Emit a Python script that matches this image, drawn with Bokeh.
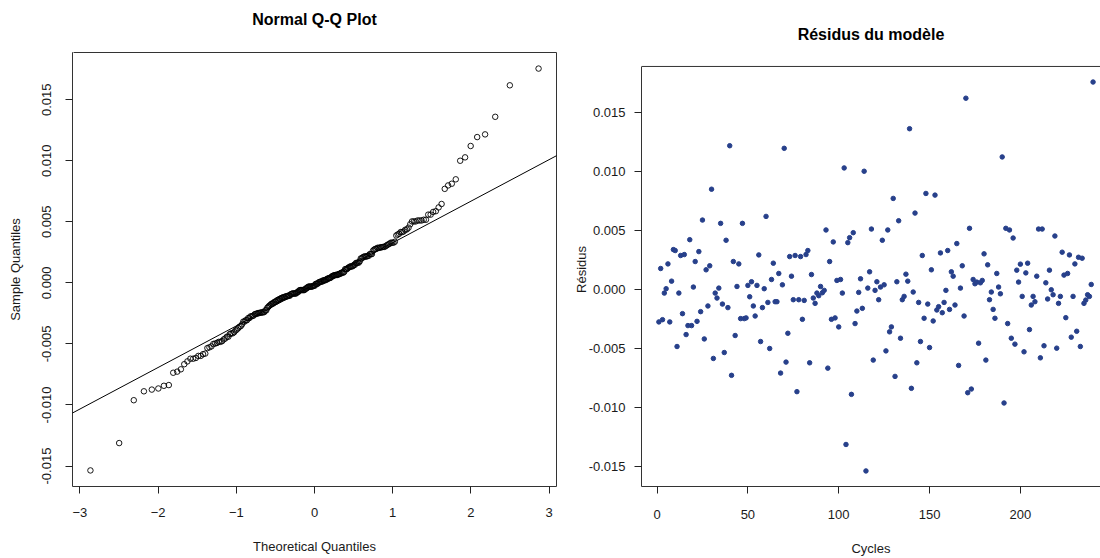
import numpy as np
from statistics import NormalDist
from bokeh.plotting import figure
from bokeh.layouts import row
from bokeh.models import (Range1d, FixedTicker, PrintfTickFormatter, Slope, LinearAxis,
                          Title, Span)
from bokeh.embed import file_html
from bokeh.resources import INLINE

# ---- data ----
cycles = list(range(1, 241))
residus = [
    -0.00275, 0.00177, -0.00256, -0.00031, 0.00006, 0.00216, -0.00275, 0.00070, 0.00337, 0.00329,
    -0.00483, -0.00031, 0.00287, -0.00205, 0.00295, -0.00382, -0.00306, 0.00421, -0.00306, 0.00020,
    0.00236, -0.00270, 0.00320, -0.00188, 0.00587, -0.00419, 0.00166, -0.00140, 0.00200, 0.00848,
    -0.00584, -0.00031, -0.00073, 0.00011, 0.00559, -0.00124, -0.00534, 0.00416, -0.00154, 0.01216,
    -0.00727, 0.00236, -0.00390, 0.00025, 0.00216, -0.00247, 0.00559, -0.00247, -0.00241, 0.00034,
    -0.00062, 0.00065, -0.00140, -0.00225, 0.00034, 0.00292, -0.00441, -0.00154, 0.00006, 0.00618,
    -0.00110, -0.00500, 0.00084, 0.00222, -0.00104, -0.00104, 0.00135, -0.00708, 0.00039, 0.01194,
    -0.00615, -0.00371, 0.00278, 0.00112, -0.00087, 0.00287, -0.00865, -0.00087, 0.00278, -0.00253,
    -0.00093, 0.00295, 0.00329, -0.00621, 0.00126, -0.00073, -0.00118, -0.00031, -0.00053, 0.00025,
    -0.00028, -0.00008, 0.00503, -0.00666, 0.00236, -0.00253, 0.00402, -0.00241, 0.00076, -0.00317,
    0.00084, -0.00031, 0.01028, -0.01312, 0.00396, 0.00438, -0.00888, 0.00480, -0.00289, -0.00183,
    -0.00025, 0.00090, -0.00160, 0.01000, -0.01536, 0.00011, 0.00149, 0.00511, -0.00598, -0.00008,
    0.00065, -0.00087, 0.00020, 0.00416, 0.00039, -0.00520, 0.00503, -0.00359, -0.00317, 0.00770,
    -0.00736, 0.00065, 0.00581, -0.00413, -0.00087, -0.00059, 0.00129, 0.00070, 0.01360, -0.00837,
    -0.00022, 0.00646, -0.00621, -0.00110, -0.00441, 0.00287, -0.00244, 0.00812, -0.00124, -0.00492,
    0.00166, -0.00267, 0.00798, -0.00174, -0.00146, 0.00309, -0.00197, -0.00110, -0.00008, 0.00329,
    -0.00169, 0.00149, 0.00112, -0.00132, 0.00388, -0.00643, 0.00011, 0.00200, -0.00225, 0.01618,
    -0.00874, 0.00517, -0.00843, 0.00084, 0.00048, 0.00062, -0.00455, 0.00056, 0.00076, 0.00301,
    -0.00598, 0.00208, -0.00087, -0.00022, -0.00169, -0.00244, 0.00135, 0.00020, -0.00037, 0.01121,
    -0.00961, 0.00517, -0.00289, 0.00503, -0.00413, 0.00435, -0.00463, 0.00163, 0.00062, 0.00214,
    -0.00059, -0.00528, 0.00140, 0.00222, -0.00340, -0.00132, -0.00059, -0.00104, 0.00112, 0.00511,
    -0.00579, 0.00511, -0.00477, 0.00056, -0.00081, 0.00163, -0.00003, -0.00045, 0.00452, -0.00497,
    -0.00118, -0.00059, 0.00315, 0.00121, -0.00239, 0.00135, 0.00292, -0.00404, -0.00059, 0.00216,
    -0.00354, 0.00272, -0.00483, 0.00264, -0.00118, -0.00090, -0.00045, -0.00059, 0.00042, 0.01755,
]
qq_x_ticks = [-3, -2, -1, 0, 1, 2, 3]
res_y_ticks = [-0.015, -0.010, -0.005, 0.0, 0.005, 0.010, 0.015]
cycle_ticks = [0, 50, 100, 150, 200]

title_qq = "Normal Q-Q Plot"
title_res = "Résidus du modèle"

# ---- Q-Q computations (as R's qqnorm / qqline) ----
n = len(residus)
nd = NormalDist()
theo = np.array([nd.inv_cdf((i - 0.5) / n) for i in range(1, n + 1)])
sample = np.sort(np.array(residus))
yq = np.quantile(sample, [0.25, 0.75])
xq = np.array([nd.inv_cdf(0.25), nd.inv_cdf(0.75)])
slope = (yq[1] - yq[0]) / (xq[1] - xq[0])
intercept = yq[0] - slope * xq[0]

def padded(lo, hi, f=0.04):
    d = (hi - lo) * f
    return lo - d, hi + d

FONT = "Liberation Sans"
TXT = "#1a1a1a"
FRAME = "#333333"

def style_axis(ax, ticks, label, fmt=None):
    ax.ticker = FixedTicker(ticks=ticks)
    if fmt:
        ax.formatter = PrintfTickFormatter(format=fmt)
    ax.axis_label = label
    ax.major_tick_out = 7
    ax.major_tick_in = 0
    ax.minor_tick_out = 0
    ax.minor_tick_in = 0
    ax.major_tick_line_color = "#222222"
    ax.major_label_text_font = FONT
    ax.major_label_text_font_size = "13px"
    ax.major_label_text_color = TXT
    ax.axis_label_text_font = FONT
    ax.axis_label_text_font_size = "13px"
    ax.axis_label_text_font_style = "normal"
    ax.axis_label_text_color = TXT

def add_title(p, text, gap, anchor):
    # invisible spacer (white tick at the frame corner) between the frame and the title
    spacer = LinearAxis(ticker=FixedTicker(ticks=[anchor]), axis_line_color=None,
                        major_tick_out=gap, major_tick_in=0, minor_tick_out=0, minor_tick_in=0,
                        major_tick_line_color="white",
                        major_label_overrides={anchor: ""},
                        major_label_standoff=0, major_label_text_font_size="1px",
                        axis_label=None)
    p.add_layout(spacer, "above")
    t = Title(text=text, align="center", vertical_align="bottom", standoff=0,
              text_font=FONT, text_font_size="16px", text_font_style="bold",
              text_color="black")
    p.add_layout(t, "above")

H = 558
FRAME_TOP = 52
FRAME_BOTTOM = 487

# ---- left: Normal Q-Q plot ----
xlo, xhi = padded(theo.min(), theo.max())
ylo, yhi = padded(sample.min(), sample.max())
p1 = figure(width=570, height=H, output_backend="svg", toolbar_location=None,
            x_range=Range1d(xlo, xhi), y_range=Range1d(ylo, yhi),
            min_border_left=72, min_border_right=14, min_border_top=FRAME_TOP,
            min_border_bottom=H - FRAME_BOTTOM)
xb1 = p1.below[0]
yl1 = p1.left[0]
p1.grid.visible = False
p1.outline_line_color = FRAME
p1.outline_line_alpha = 1.0
p1.outline_line_width = 1
p1.background_fill_color = "white"
p1.border_fill_color = "white"
p1.scatter(theo, sample, marker="circle", size=5.5, fill_color=None,
           line_color="black", line_width=0.9)
p1.add_layout(Slope(gradient=slope, y_intercept=intercept, line_color="black", line_width=1))

style_axis(xb1, qq_x_ticks, "Theoretical Quantiles")
xb1.axis_line_color = None
xb1.major_label_standoff = 14
xb1.axis_label_standoff = 19

style_axis(yl1, res_y_ticks, "Sample Quantiles", "%.3f")
yl1.axis_line_color = None
yl1.major_label_orientation = "vertical"
yl1.major_label_standoff = 14
yl1.axis_label_standoff = 17

add_title(p1, title_qq, 25, xlo + 0.002 * (xhi - xlo))

# ---- right: residuals vs cycles ----
rlo, rhi = padded(min(residus), max(residus))
clo, _ = padded(min(cycles), max(cycles))
cend = 244.1
# the visible box of this panel starts 14 px below the shared frame top
box_top = 66
rend = rlo + (rhi - rlo) * (FRAME_BOTTOM - FRAME_TOP) / (FRAME_BOTTOM - box_top)
p2 = figure(width=530, height=H, output_backend="svg", toolbar_location=None,
            x_range=Range1d(clo, cend), y_range=Range1d(rlo, rend),
            min_border_left=68, min_border_right=0, min_border_top=FRAME_TOP,
            min_border_bottom=H - FRAME_BOTTOM)
xb2 = p2.below[0]
yl2 = p2.left[0]
p2.grid.visible = False
p2.outline_line_color = None
p2.background_fill_color = "white"
p2.border_fill_color = "white"
p2.scatter(cycles, residus, marker="circle", size=4.5, color="#27408B")
p2.add_layout(Span(location=rhi, dimension="width", line_color=FRAME, line_width=1))

style_axis(xb2, cycle_ticks, "Cycles")
xb2.axis_line_color = FRAME
xb2.major_label_standoff = 16
xb2.axis_label_standoff = 19

style_axis(yl2, res_y_ticks, "Résidus", "%.3f")
yl2.axis_line_color = FRAME
yl2.bounds = (rlo, rhi)
yl2.major_label_orientation = "horizontal"
yl2.major_label_standoff = 9
yl2.axis_label_standoff = -3

add_title(p2, title_res, 10, clo + 0.002 * (cend - clo))

layout = row(p1, p2)
open("out.html", "w").write(file_html(layout, INLINE))
